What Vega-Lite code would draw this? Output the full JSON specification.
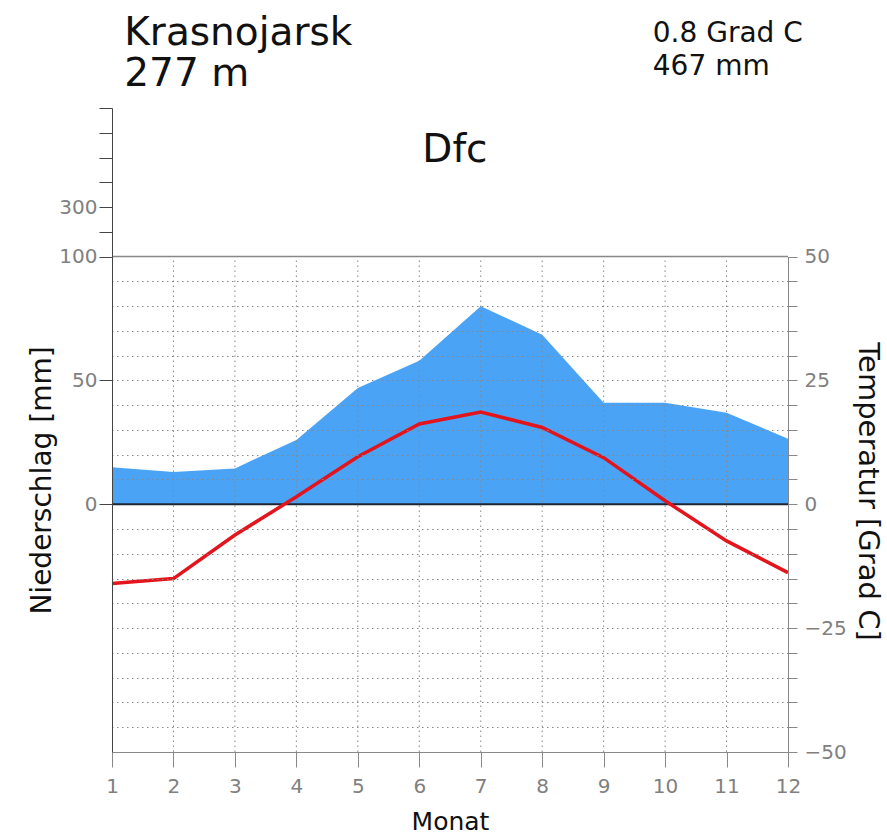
{
  "$schema": "https://vega.github.io/schema/vega-lite/v6.json",
  "width": 676,
  "height": 644,
  "autosize": {"type": "none"},
  "padding": {"left": 112, "top": 108, "right": 99, "bottom": 85},
  "background": "white",
  "config": {
    "view": {"stroke": null},
    "font": "DejaVu Sans",
    "axis": {"labelFont": "DejaVu Sans", "titleFont": "DejaVu Sans", "labelFlush": false, "labelOverlap": false, "titleFontWeight": "normal"}
  },
  "datasets": {
    "climate": [
      {"month": 1, "precip": 15, "temp": -16.0},
      {"month": 2, "precip": 13, "temp": -15.0},
      {"month": 3, "precip": 14.5, "temp": -6.2},
      {"month": 4, "precip": 26, "temp": 1.5},
      {"month": 5, "precip": 47, "temp": 9.6},
      {"month": 6, "precip": 58, "temp": 16.2},
      {"month": 7, "precip": 80, "temp": 18.6},
      {"month": 8, "precip": 68.5, "temp": 15.5},
      {"month": 9, "precip": 41, "temp": 9.4},
      {"month": 10, "precip": 41, "temp": 0.7},
      {"month": 11, "precip": 37, "temp": -7.4},
      {"month": 12, "precip": 26.5, "temp": -13.8}
    ],
    "station": [
      {"name": "Krasnojarsk", "elevation": "277 m", "meanTemp": "0.8 Grad C", "annualPrecip": "467 mm", "koppen": "Dfc"}
    ]
  },
  "layer": [
    {
      "data": {"name": "climate"},
      "mark": {"type": "area", "color": "#4ba3f5", "interpolate": "linear"},
      "encoding": {
        "x": {
          "field": "month", "type": "quantitative",
          "scale": {"domain": [1, 12], "nice": false, "zero": false},
          "axis": {
            "orient": "bottom", "values": [1, 2, 3, 4, 5, 6, 7, 8, 9, 10, 11, 12], "format": "d",
            "title": "Monat", "tickSize": 15, "tickColor": "#888", "domainColor": "#888",
            "labelColor": "#808080", "labelFontSize": 20, "labelPadding": 9,
            "titleFontSize": 25, "titleColor": "#111", "titleY": 77, "titleBaseline": "alphabetic",
            "grid": false, "zindex": 1
          }
        },
        "y": {
          "field": "precip", "type": "quantitative",
          "scale": {"domain": [-100, 160], "nice": false, "zero": false},
          "axis": {
            "orient": "left", "values": [0, 50, 100, 110, 120, 130, 140, 150, 160],
            "labelExpr": "datum.value == 120 ? '300' : (datum.value <= 100 ? datum.label : '')",
            "tickSize": 13, "tickColor": "#444", "domainColor": "#444",
            "labelColor": "#808080", "labelFontSize": 20, "labelPadding": 2,
            "title": "Niederschlag [mm]", "titleFontSize": 28, "titleColor": "#111",
            "titleAngle": -90, "titleX": -62, "titleY": 372, "titleBaseline": "alphabetic", "titleAlign": "center",
            "grid": false, "zindex": 1
          }
        },
        "y2": {"datum": 0}
      }
    },
    {
      "layer": [
        {
          "data": {"name": "climate"},
          "transform": [{"filter": "datum.month > 1 && datum.month < 12"}],
          "mark": {"type": "rule", "color": "#888", "strokeDash": [1.5, 3.5], "strokeWidth": 1},
          "encoding": {
            "x": {"field": "month", "type": "quantitative", "scale": {"domain": [1, 12], "nice": false, "zero": false}},
            "y": {"datum": -50, "type": "quantitative", "scale": {"domain": [-50, 50], "range": [644, 148.5], "nice": false, "zero": false},
              "axis": {"orient": "right", "values": [-50, -45, -40, -35, -30, -25, -20, -15, -10, -5, 0, 5, 10, 15, 20, 25, 30, 35, 40, 45, 50], "format": "d", "labelExpr": "datum.value % 25 == 0 ? datum.label : ''", "tickSize": 9, "tickColor": "#888", "domainColor": "#888", "labelColor": "#808080", "labelFontSize": 20, "labelPadding": 7, "title": "Temperatur [Grad C]", "titleFontSize": 29, "titleColor": "#111", "titleAngle": 90, "titleX": 70, "titleY": 383, "titleBaseline": "alphabetic", "titleAlign": "center", "grid": true, "gridColor": "#888", "gridDash": [1.5, 3.5], "gridWidth": 1, "gridOpacity": {"condition": {"test": "abs(datum.value) == 50 || datum.value == 0", "value": 0}, "value": 1}, "zindex": 1}},
            "y2": {"datum": 50}
          }
        },
        {
          "data": {"name": "station"},
          "mark": {"type": "rule", "color": "#888", "strokeWidth": 1.5},
          "encoding": {
            "x": {"datum": 1, "type": "quantitative", "scale": {"domain": [1, 12], "nice": false, "zero": false}},
            "x2": {"datum": 12},
            "y": {"datum": 50, "type": "quantitative", "scale": {"domain": [-50, 50], "range": [644, 148.5], "nice": false, "zero": false},
              "axis": {"orient": "right", "values": [-50, -45, -40, -35, -30, -25, -20, -15, -10, -5, 0, 5, 10, 15, 20, 25, 30, 35, 40, 45, 50], "format": "d", "labelExpr": "datum.value % 25 == 0 ? datum.label : ''", "tickSize": 9, "tickColor": "#888", "domainColor": "#888", "labelColor": "#808080", "labelFontSize": 20, "labelPadding": 7, "title": "Temperatur [Grad C]", "titleFontSize": 29, "titleColor": "#111", "titleAngle": 90, "titleX": 70, "titleY": 383, "titleBaseline": "alphabetic", "titleAlign": "center", "grid": true, "gridColor": "#888", "gridDash": [1.5, 3.5], "gridWidth": 1, "gridOpacity": {"condition": {"test": "abs(datum.value) == 50 || datum.value == 0", "value": 0}, "value": 1}, "zindex": 1}}
          }
        },
        {
          "data": {"name": "station"},
          "mark": {"type": "rule", "color": "#1c2633", "strokeWidth": 2},
          "encoding": {
            "x": {"datum": 1, "type": "quantitative", "scale": {"domain": [1, 12], "nice": false, "zero": false}},
            "x2": {"datum": 12},
            "y": {"datum": 0, "type": "quantitative", "scale": {"domain": [-50, 50], "range": [644, 148.5], "nice": false, "zero": false},
              "axis": {"orient": "right", "values": [-50, -45, -40, -35, -30, -25, -20, -15, -10, -5, 0, 5, 10, 15, 20, 25, 30, 35, 40, 45, 50], "format": "d", "labelExpr": "datum.value % 25 == 0 ? datum.label : ''", "tickSize": 9, "tickColor": "#888", "domainColor": "#888", "labelColor": "#808080", "labelFontSize": 20, "labelPadding": 7, "title": "Temperatur [Grad C]", "titleFontSize": 29, "titleColor": "#111", "titleAngle": 90, "titleX": 70, "titleY": 383, "titleBaseline": "alphabetic", "titleAlign": "center", "grid": true, "gridColor": "#888", "gridDash": [1.5, 3.5], "gridWidth": 1, "gridOpacity": {"condition": {"test": "abs(datum.value) == 50 || datum.value == 0", "value": 0}, "value": 1}, "zindex": 1}}
          }
        },
        {
          "data": {"name": "climate"},
          "mark": {"type": "line", "color": "#e3141c", "strokeWidth": 3.5},
          "encoding": {
            "x": {"field": "month", "type": "quantitative", "scale": {"domain": [1, 12], "nice": false, "zero": false}},
            "y": {"field": "temp", "type": "quantitative", "scale": {"domain": [-50, 50], "range": [644, 148.5], "nice": false, "zero": false},
              "axis": {"orient": "right", "values": [-50, -45, -40, -35, -30, -25, -20, -15, -10, -5, 0, 5, 10, 15, 20, 25, 30, 35, 40, 45, 50], "format": "d", "labelExpr": "datum.value % 25 == 0 ? datum.label : ''", "tickSize": 9, "tickColor": "#888", "domainColor": "#888", "labelColor": "#808080", "labelFontSize": 20, "labelPadding": 7, "title": "Temperatur [Grad C]", "titleFontSize": 29, "titleColor": "#111", "titleAngle": 90, "titleX": 70, "titleY": 383, "titleBaseline": "alphabetic", "titleAlign": "center", "grid": true, "gridColor": "#888", "gridDash": [1.5, 3.5], "gridWidth": 1, "gridOpacity": {"condition": {"test": "abs(datum.value) == 50 || datum.value == 0", "value": 0}, "value": 1}, "zindex": 1}}
          }
        },
        {
          "data": {"name": "station"},
          "mark": {"type": "text", "align": "left", "baseline": "alphabetic", "fontSize": 39, "color": "#111", "font": "DejaVu Sans"},
          "encoding": {
            "text": {"field": "name"},
            "x": {"datum": 1.2, "type": "quantitative", "scale": {"domain": [1, 12], "nice": false, "zero": false}},
            "y": {"datum": 92.68, "type": "quantitative", "scale": {"domain": [-50, 50], "range": [644, 148.5], "nice": false, "zero": false},
              "axis": {"orient": "right", "values": [-50, -45, -40, -35, -30, -25, -20, -15, -10, -5, 0, 5, 10, 15, 20, 25, 30, 35, 40, 45, 50], "format": "d", "labelExpr": "datum.value % 25 == 0 ? datum.label : ''", "tickSize": 9, "tickColor": "#888", "domainColor": "#888", "labelColor": "#808080", "labelFontSize": 20, "labelPadding": 7, "title": "Temperatur [Grad C]", "titleFontSize": 29, "titleColor": "#111", "titleAngle": 90, "titleX": 70, "titleY": 383, "titleBaseline": "alphabetic", "titleAlign": "center", "grid": true, "gridColor": "#888", "gridDash": [1.5, 3.5], "gridWidth": 1, "gridOpacity": {"condition": {"test": "abs(datum.value) == 50 || datum.value == 0", "value": 0}, "value": 1}, "zindex": 1}}
          }
        },
        {
          "data": {"name": "station"},
          "mark": {"type": "text", "align": "left", "baseline": "alphabetic", "fontSize": 39, "color": "#111", "font": "DejaVu Sans"},
          "encoding": {
            "text": {"field": "elevation"},
            "x": {"datum": 1.2, "type": "quantitative", "scale": {"domain": [1, 12], "nice": false, "zero": false}},
            "y": {"datum": 84.4, "type": "quantitative", "scale": {"domain": [-50, 50], "range": [644, 148.5], "nice": false, "zero": false},
              "axis": {"orient": "right", "values": [-50, -45, -40, -35, -30, -25, -20, -15, -10, -5, 0, 5, 10, 15, 20, 25, 30, 35, 40, 45, 50], "format": "d", "labelExpr": "datum.value % 25 == 0 ? datum.label : ''", "tickSize": 9, "tickColor": "#888", "domainColor": "#888", "labelColor": "#808080", "labelFontSize": 20, "labelPadding": 7, "title": "Temperatur [Grad C]", "titleFontSize": 29, "titleColor": "#111", "titleAngle": 90, "titleX": 70, "titleY": 383, "titleBaseline": "alphabetic", "titleAlign": "center", "grid": true, "gridColor": "#888", "gridDash": [1.5, 3.5], "gridWidth": 1, "gridOpacity": {"condition": {"test": "abs(datum.value) == 50 || datum.value == 0", "value": 0}, "value": 1}, "zindex": 1}}
          }
        },
        {
          "data": {"name": "station"},
          "mark": {"type": "text", "align": "left", "baseline": "alphabetic", "fontSize": 28, "color": "#111", "font": "DejaVu Sans"},
          "encoding": {
            "text": {"field": "meanTemp"},
            "x": {"datum": 9.8, "type": "quantitative", "scale": {"domain": [1, 12], "nice": false, "zero": false}},
            "y": {"datum": 93.29, "type": "quantitative", "scale": {"domain": [-50, 50], "range": [644, 148.5], "nice": false, "zero": false},
              "axis": {"orient": "right", "values": [-50, -45, -40, -35, -30, -25, -20, -15, -10, -5, 0, 5, 10, 15, 20, 25, 30, 35, 40, 45, 50], "format": "d", "labelExpr": "datum.value % 25 == 0 ? datum.label : ''", "tickSize": 9, "tickColor": "#888", "domainColor": "#888", "labelColor": "#808080", "labelFontSize": 20, "labelPadding": 7, "title": "Temperatur [Grad C]", "titleFontSize": 29, "titleColor": "#111", "titleAngle": 90, "titleX": 70, "titleY": 383, "titleBaseline": "alphabetic", "titleAlign": "center", "grid": true, "gridColor": "#888", "gridDash": [1.5, 3.5], "gridWidth": 1, "gridOpacity": {"condition": {"test": "abs(datum.value) == 50 || datum.value == 0", "value": 0}, "value": 1}, "zindex": 1}}
          }
        },
        {
          "data": {"name": "station"},
          "mark": {"type": "text", "align": "left", "baseline": "alphabetic", "fontSize": 28, "color": "#111", "font": "DejaVu Sans"},
          "encoding": {
            "text": {"field": "annualPrecip"},
            "x": {"datum": 9.8, "type": "quantitative", "scale": {"domain": [1, 12], "nice": false, "zero": false}},
            "y": {"datum": 86.63, "type": "quantitative", "scale": {"domain": [-50, 50], "range": [644, 148.5], "nice": false, "zero": false},
              "axis": {"orient": "right", "values": [-50, -45, -40, -35, -30, -25, -20, -15, -10, -5, 0, 5, 10, 15, 20, 25, 30, 35, 40, 45, 50], "format": "d", "labelExpr": "datum.value % 25 == 0 ? datum.label : ''", "tickSize": 9, "tickColor": "#888", "domainColor": "#888", "labelColor": "#808080", "labelFontSize": 20, "labelPadding": 7, "title": "Temperatur [Grad C]", "titleFontSize": 29, "titleColor": "#111", "titleAngle": 90, "titleX": 70, "titleY": 383, "titleBaseline": "alphabetic", "titleAlign": "center", "grid": true, "gridColor": "#888", "gridDash": [1.5, 3.5], "gridWidth": 1, "gridOpacity": {"condition": {"test": "abs(datum.value) == 50 || datum.value == 0", "value": 0}, "value": 1}, "zindex": 1}}
          }
        },
        {
          "data": {"name": "station"},
          "mark": {"type": "text", "align": "left", "baseline": "alphabetic", "fontSize": 39, "color": "#111", "font": "DejaVu Sans"},
          "encoding": {
            "text": {"field": "koppen"},
            "x": {"datum": 6.05, "type": "quantitative", "scale": {"domain": [1, 12], "nice": false, "zero": false}},
            "y": {"datum": 69.07, "type": "quantitative", "scale": {"domain": [-50, 50], "range": [644, 148.5], "nice": false, "zero": false},
              "axis": {"orient": "right", "values": [-50, -45, -40, -35, -30, -25, -20, -15, -10, -5, 0, 5, 10, 15, 20, 25, 30, 35, 40, 45, 50], "format": "d", "labelExpr": "datum.value % 25 == 0 ? datum.label : ''", "tickSize": 9, "tickColor": "#888", "domainColor": "#888", "labelColor": "#808080", "labelFontSize": 20, "labelPadding": 7, "title": "Temperatur [Grad C]", "titleFontSize": 29, "titleColor": "#111", "titleAngle": 90, "titleX": 70, "titleY": 383, "titleBaseline": "alphabetic", "titleAlign": "center", "grid": true, "gridColor": "#888", "gridDash": [1.5, 3.5], "gridWidth": 1, "gridOpacity": {"condition": {"test": "abs(datum.value) == 50 || datum.value == 0", "value": 0}, "value": 1}, "zindex": 1}}
          }
        }
      ]
    }
  ],
  "resolve": {"scale": {"y": "independent"}, "axis": {"y": "independent"}}
}
